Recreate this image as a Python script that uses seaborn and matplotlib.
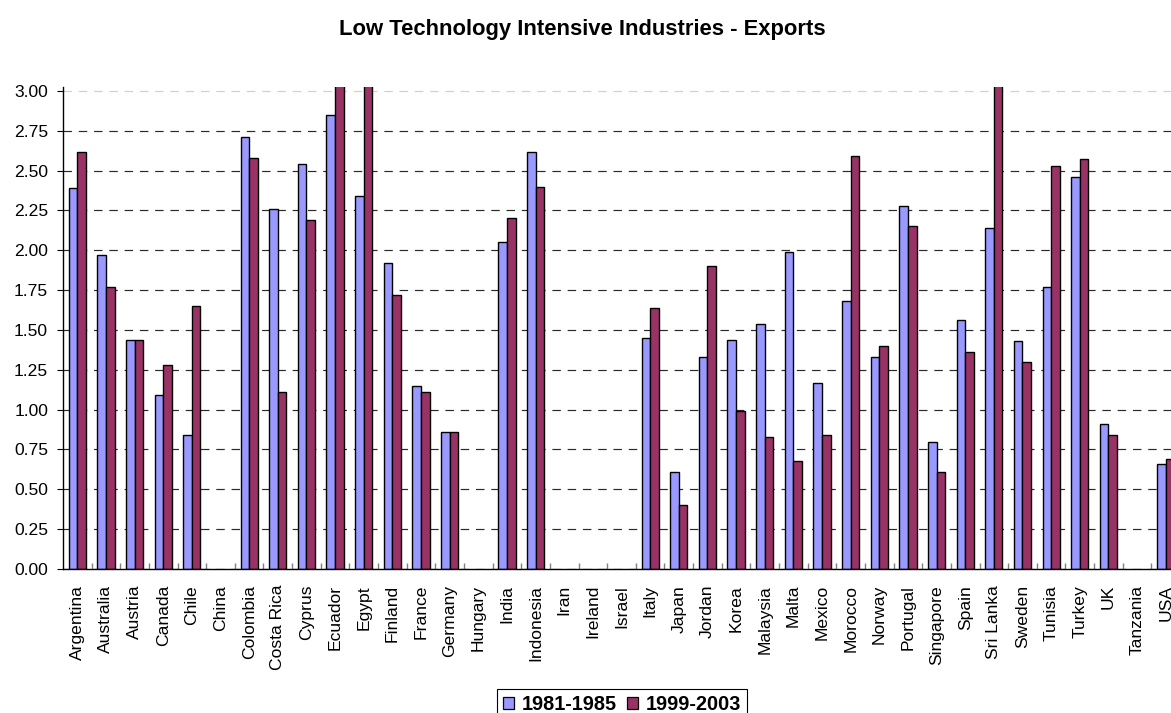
import numpy as np
import pandas as pd
import matplotlib
matplotlib.use("Agg")
import matplotlib.pyplot as plt
import seaborn as sns
from matplotlib.patches import Patch
from matplotlib.ticker import FixedLocator, FormatStrFormatter

# ---- data -------------------------------------------------------------
countries = ["Argentina", "Australia", "Austria", "Canada", "Chile", "China",
             "Colombia", "Costa Rica", "Cyprus", "Ecuador", "Egypt", "Finland",
             "France", "Germany", "Hungary", "India", "Indonesia", "Iran",
             "Ireland", "Israel", "Italy", "Japan", "Jordan", "Korea",
             "Malaysia", "Malta", "Mexico", "Morocco", "Norway", "Portugal",
             "Singapore", "Spain", "Sri Lanka", "Sweden", "Tunisia", "Turkey",
             "UK", "Tanzania", "USA"]
nan = np.nan
exports_1981_1985 = [2.39, 1.97, 1.44, 1.09, 0.84, nan, 2.71, 2.26, 2.54, 2.85,
                     2.34, 1.92, 1.15, 0.86, nan, 2.05, 2.62, nan, nan, nan,
                     1.45, 0.61, 1.33, 1.44, 1.54, 1.99, 1.17, 1.68, 1.33, 2.28,
                     0.80, 1.56, 2.14, 1.43, 1.77, 2.46, 0.91, nan, 0.66]
exports_1999_2003 = [2.62, 1.77, 1.44, 1.28, 1.65, nan, 2.58, 1.11, 2.19, 3.30,
                     3.45, 1.72, 1.11, 0.86, nan, 2.20, 2.40, nan, nan, nan,
                     1.64, 0.40, 1.90, 0.99, 0.83, 0.68, 0.84, 2.59, 1.40, 2.15,
                     0.61, 1.36, 3.60, 1.30, 2.53, 2.57, 0.84, nan, 0.69]
periods = ["1981-1985", "1999-2003"]
colors = ["#9999FF", "#993366"]
y_ticks = [0.0, 0.25, 0.5, 0.75, 1.0, 1.25, 1.5, 1.75, 2.0, 2.25, 2.5, 2.75, 3.0]

df = pd.DataFrame({"country": countries,
                   periods[0]: exports_1981_1985,
                   periods[1]: exports_1999_2003})
long = df.melt(id_vars="country", var_name="period", value_name="value").dropna()

# ---- style ------------------------------------------------------------
sns.set_theme(style="white")
plt.rcParams["font.family"] = ["Liberation Sans", "DejaVu Sans"]
plt.rcParams["lines.scale_dashes"] = False
for key in ("text.color", "axes.labelcolor", "xtick.color", "ytick.color"):
    plt.rcParams[key] = "black"

W, H = 1171, 713
fig = plt.figure(figsize=(W / 100, H / 100), dpi=100)
fig.patch.set_facecolor("white")
ax = fig.add_axes([63 / W, 144 / H, 1117.0 / W, 482 / H])

sns.barplot(data=long, x="country", y="value", hue="period",
            order=countries, hue_order=periods, palette=colors,
            width=0.6, saturation=1, edgecolor="black", linewidth=1.0,
            errorbar=None, legend=False, ax=ax)

ax.set_xlim(-0.5, len(countries) - 0.5)
ax.set_ylim(0, 3.025)
ax.set_xlabel("")
ax.set_ylabel("")

# y axis
ax.yaxis.set_major_locator(FixedLocator(y_ticks))
ax.yaxis.set_major_formatter(FormatStrFormatter("%.2f"))
ax.tick_params(axis="y", which="major", direction="out", length=4.3,
               width=0.8, color="black", labelsize=12.6, pad=6.5,
               left=True, labelcolor="black")
ax.yaxis.grid(True, linestyle=(0, (6.1, 4.9)), color="#2a2a2a", linewidth=0.85)
ax.set_axisbelow(True)
ax.yaxis.get_gridlines()[-1].set_color("#d0d0d0")

# x axis: labels at category centres, small inner ticks between categories
ax.set_xticks(range(len(countries)))
ax.set_xticklabels(countries, rotation=90, fontsize=12.6)
ax.tick_params(axis="x", which="major", length=0, pad=11.5, labelcolor="black")
ax.xaxis.set_minor_locator(FixedLocator(np.arange(0.5, len(countries) - 0.5, 1)))
ax.tick_params(axis="x", which="minor", direction="in", length=4,
               width=1, color="#808080", bottom=True)

for side in ("top", "right"):
    ax.spines[side].set_visible(False)
for side in ("left", "bottom"):
    ax.spines[side].set_color("black")
    ax.spines[side].set_linewidth(1.0)

fig.text(582 / W, 1 - 29 / H, "Low Technology Intensive Industries - Exports",
         ha="center", va="center", fontsize=15.8, fontweight="bold",
         color="black")

handles = [Patch(facecolor=c, edgecolor="black", linewidth=0.9, label=p)
           for c, p in zip(colors, periods)]
leg = fig.legend(handles=handles, loc="upper center",
                 bbox_to_anchor=(622 / W, 1 - 689 / H), ncol=2,
                 prop={"weight": "bold", "size": 14.3}, frameon=True,
                 fancybox=False, shadow=False, edgecolor="black",
                 handlelength=0.55, handleheight=0.55, handletextpad=0.4,
                 columnspacing=0.5, borderpad=0.3, borderaxespad=0)
leg.get_frame().set_linewidth(0.8)
leg.get_frame().set_alpha(1)
for t in leg.get_texts():
    t.set_color("black")

fig.savefig("out.png", dpi=100)
